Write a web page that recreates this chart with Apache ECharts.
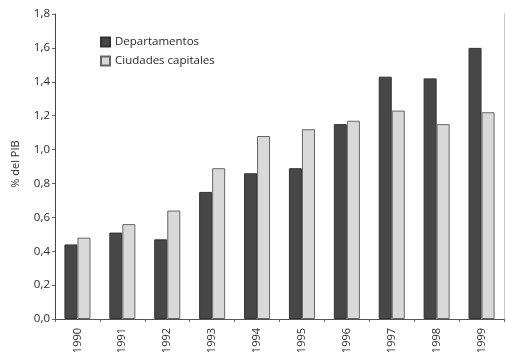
<!DOCTYPE html>
<html>
<head>
<meta charset="utf-8">
<script src="https://cdn.jsdelivr.net/npm/echarts@6/dist/echarts.min.js"></script>
<style>
  html, body { margin: 0; padding: 0; background: #fff; }
  #chart { width: 506px; height: 354px; }
</style>
</head>
<body>
<div id="chart"></div>
<script>
// Años del eje horizontal
const years = ['1990', '1991', '1992', '1993', '1994', '1995', '1996', '1997', '1998', '1999'];
// Gasto como % del PIB
const departamentos = [0.44, 0.51, 0.47, 0.75, 0.86, 0.89, 1.15, 1.43, 1.42, 1.60];
const ciudadesCapitales = [0.48, 0.56, 0.64, 0.89, 1.08, 1.12, 1.17, 1.23, 1.15, 1.22];
const seriesNames = ['Departamentos', 'Ciudades capitales'];
const yTicks = { min: 0, max: 1.8, interval: 0.2 };

const FONT = '"Open Sans", sans-serif';
const chart = echarts.init(document.getElementById('chart'), null, { renderer: 'canvas' });

const fmt = v => v.toFixed(1).replace('.', ',');

chart.setOption({
  animation: false,
  backgroundColor: '#ffffff',
  textStyle: { fontFamily: FONT, color: '#2a2a2a' },
  grid: { left: 55, right: 2, top: 14, bottom: 35, outerBoundsMode: 'none', containLabel: false },
  legend: {
    orient: 'vertical',
    left: 95,
    top: 31,
    itemWidth: 9,
    itemHeight: 9,
    itemGap: 7,
    icon: 'rect',
    data: seriesNames,
    textStyle: { fontFamily: FONT, fontSize: 11.5, color: '#2a2a2a' }
  },
  xAxis: [
    {
      type: 'category',
      data: years,
      boundaryGap: true,
      axisLine: { lineStyle: { color: '#444', width: 1 } },
      axisTick: { show: true, length: 3, lineStyle: { color: '#666' } },
      axisLabel: { rotate: 90, fontFamily: FONT, fontSize: 11, color: '#2a2a2a', margin: 9 }
    },
    {
      type: 'category',
      data: years,
      position: 'top',
      axisLine: { lineStyle: { color: '#555', width: 1 } },
      axisTick: { show: false },
      axisLabel: { show: false }
    }
  ],
  yAxis: [
    {
      type: 'value',
      min: yTicks.min,
      max: yTicks.max,
      interval: yTicks.interval,
      splitLine: { show: false },
      axisLine: { show: true, lineStyle: { color: '#444', width: 1 } },
      axisTick: { show: true, length: 3, lineStyle: { color: '#666' } },
      axisLabel: { formatter: fmt, fontFamily: FONT, fontSize: 11.5, color: '#2a2a2a', margin: 5 }
    },
    {
      type: 'value',
      position: 'right',
      min: yTicks.min,
      max: yTicks.max,
      interval: yTicks.interval,
      splitLine: { show: false },
      axisLine: { show: true, lineStyle: { color: '#c8c8c8', width: 1 } },
      axisTick: { show: false },
      axisLabel: { show: false }
    }
  ],
  graphic: [
    {
      type: 'text',
      x: 16,
      y: 164,
      rotation: Math.PI / 2,
      style: {
        text: '% del PIB',
        font: '11px ' + FONT,
        fill: '#2a2a2a',
        align: 'center',
        verticalAlign: 'middle'
      }
    }
  ],
  series: [
    {
      name: seriesNames[0],
      type: 'bar',
      data: departamentos,
      barWidth: '29%',
      barGap: '0%',
      itemStyle: { color: '#474747', borderColor: '#333', borderWidth: 1 }
    },
    {
      name: seriesNames[1],
      type: 'bar',
      data: ciudadesCapitales,
      barWidth: '29%',
      barGap: '0%',
      itemStyle: { color: '#d9d9d9', borderColor: '#666', borderWidth: 1 }
    }
  ]
});
</script>
</body>
</html>
